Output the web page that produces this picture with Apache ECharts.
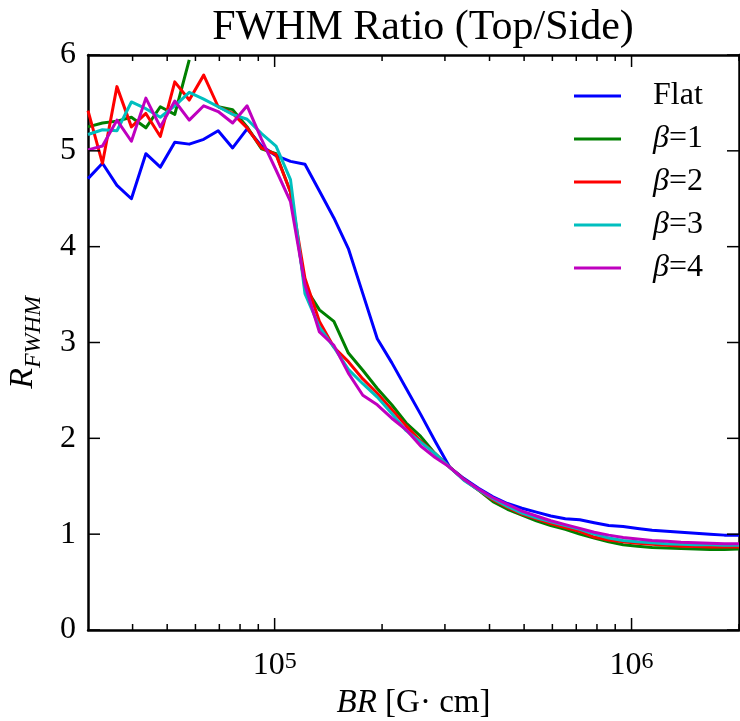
<!DOCTYPE html>
<html><head><meta charset="utf-8">
<script src="https://cdn.jsdelivr.net/npm/echarts@6/dist/echarts.min.js"></script>
<style>html,body{margin:0;padding:0;background:#fff}#c{width:740px;height:721px}</style>
</head><body><div id="c"></div>
<script>
// x positions (BR, G cm), log spaced
const xs = [30000, 32934, 36155, 39691, 43573, 47835, 52513, 57649, 63287, 69477,
  76272, 83731, 91920, 100910, 110779, 121613, 133507, 146564, 160898, 176634,
  193909, 212873, 233692, 256547, 281637, 309181, 339419, 372615, 409057, 449063,
  492981, 541195, 594124, 652230, 716018, 786045, 862920, 947314, 1039961, 1141669,
  1253324, 1375899, 1510463, 1658186, 1820356, 2000000];

const flat = [4.71, 4.87, 4.64, 4.50, 4.97, 4.83, 5.09, 5.07, 5.12, 5.21,
  5.03, 5.23, 5.05, 4.95, 4.89, 4.86, 4.58, 4.30, 3.98, 3.51,
  3.04, 2.79, 2.52, 2.25, 1.97, 1.70, 1.58, 1.48, 1.39, 1.32,
  1.27, 1.23, 1.19, 1.16, 1.15, 1.12, 1.09, 1.08, 1.06, 1.04,
  1.03, 1.02, 1.01, 1.00, 0.99, 0.99];

const beta1 = [5.25, 5.29, 5.31, 5.35, 5.24, 5.46, 5.38, 5.95, null, 5.46,
  5.43, 5.25, 5.02, 4.97, 4.57, 3.58, 3.34, 3.22, 2.89, 2.71,
  2.52, 2.35, 2.16, 2.02, 1.84, 1.70, 1.57, 1.46, 1.34, 1.26,
  1.20, 1.14, 1.09, 1.05, 1.00, 0.96, 0.92, 0.89, 0.875, 0.86,
  0.855, 0.85, 0.845, 0.84, 0.84, 0.845];

const beta2 = [5.42, 4.87, 5.67, 5.25, 5.39, 5.15, 5.72, 5.53, 5.79, 5.46,
  5.39, 5.24, 5.03, 4.96, 4.57, 3.67, 3.22, 2.95, 2.80, 2.62,
  2.47, 2.30, 2.13, 1.97, 1.84, 1.70, 1.57, 1.46, 1.36, 1.28,
  1.21, 1.16, 1.11, 1.07, 1.03, 0.97, 0.94, 0.92, 0.905, 0.895,
  0.885, 0.875, 0.87, 0.865, 0.865, 0.865];

const beta3 = [5.17, 5.22, 5.21, 5.51, 5.44, 5.35, 5.47, 5.61, 5.54, 5.46,
  5.38, 5.33, 5.18, 5.05, 4.70, 3.51, 3.16, 2.95, 2.72, 2.57,
  2.43, 2.26, 2.08, 1.96, 1.84, 1.70, 1.56, 1.46, 1.37, 1.29,
  1.22, 1.17, 1.13, 1.09, 1.05, 1.00, 0.96, 0.935, 0.92, 0.91,
  0.90, 0.895, 0.89, 0.89, 0.885, 0.885];

const beta4 = [5.01, 5.05, 5.32, 5.10, 5.55, 5.25, 5.52, 5.32, 5.47, 5.41,
  5.29, 5.47, 5.12, 4.80, 4.47, 3.60, 3.11, 2.97, 2.68, 2.45,
  2.35, 2.21, 2.09, 1.92, 1.80, 1.70, 1.57, 1.47, 1.38, 1.31,
  1.24, 1.19, 1.14, 1.10, 1.06, 1.02, 0.99, 0.965, 0.95, 0.935,
  0.925, 0.915, 0.91, 0.905, 0.90, 0.90];

const seriesNames = ['Flat', 'β=1', 'β=2', 'β=3', 'β=4'];
const seriesValues = [flat, beta1, beta2, beta3, beta4];
const colors = ['#0000ff', '#008000', '#ff0000', '#00bfbf', '#bf00bf'];

const majorX = [1e5, 1e6];
const minorX = [4e4, 5e4, 6e4, 7e4, 8e4, 9e4, 2e5, 3e5, 4e5, 5e5, 6e5, 7e5, 8e5, 9e5, 2e6];
const yTicks = [0, 1, 2, 3, 4, 5, 6];
const yMin = 0, yMax = 6, yStep = 1;
const xMin = 30000, xMax = 2000000;

const titleText = 'FWHM Ratio (Top/Side)';
const F = '"Liberation Serif", "DejaVu Serif", serif';

const chart = echarts.init(document.getElementById('c'), null, {renderer: 'canvas'});

// tick marks: [x, y, length, direction]  direction 0 up, 1 down, 2 right, 3 left
const MAJ = 12, MIN = 6;
const tickData = [];
majorX.forEach(v => { tickData.push([v, yMin, MAJ, 0]); tickData.push([v, yMax, MAJ, 1]); });
minorX.forEach(v => { tickData.push([v, yMin, MIN, 0]); tickData.push([v, yMax, MIN, 1]); });
yTicks.forEach(v => { tickData.push([xMin, v, MAJ, 2]); tickData.push([xMax, v, MAJ, 3]); });

const lineAxis = (extra) => Object.assign({
  axisLine: {show: true, onZero: false, lineStyle: {color: '#000', width: 2.5}},
  axisTick: {show: false},
  splitLine: {show: false}, minorTick: {show: false}, minorSplitLine: {show: false}
}, extra);

const option = {
  animation: false,
  backgroundColor: '#fff',
  grid: {left: 88, right: 1, top: 55, bottom: 91, containLabel: false, outerBoundsMode: 'none'},
  xAxis: [
    lineAxis({
      type: 'log', logBase: 10, min: xMin, max: xMax, position: 'bottom',
      axisLabel: {
        show: true, customValues: majorX, margin: 20,
        formatter: v => '{b|10}{s|' + Math.round(Math.log10(v)) + '}',
        rich: {
          b: {fontSize: 32, fontFamily: F, color: '#000', lineHeight: 32, verticalAlign: 'bottom', padding: [6, 0, 0, 0]},
          s: {fontSize: 24, fontFamily: F, color: '#000', lineHeight: 24, verticalAlign: 'top'}
        }
      },
      name: '{i|BR} [G· cm]', nameLocation: 'middle', nameGap: 56,
      nameTextStyle: {fontSize: 33, fontFamily: F, color: '#000',
        rich: {i: {fontSize: 33, fontFamily: F, fontStyle: 'italic', color: '#000'}}}
    }),
    lineAxis({type: 'log', logBase: 10, min: xMin, max: xMax, position: 'top', axisLabel: {show: false}})
  ],
  yAxis: [
    lineAxis({
      type: 'value', min: yMin, max: yMax, interval: yStep, position: 'left',
      axisLabel: {show: true, fontSize: 32, fontFamily: F, color: '#000', margin: 12},
      name: '{r|R}{s|FWHM}', nameLocation: 'middle', nameRotate: 90, nameGap: 42,
      nameTextStyle: {rich: {
        r: {fontSize: 34, fontFamily: F, fontStyle: 'italic', color: '#000', lineHeight: 40, verticalAlign: 'top'},
        s: {fontSize: 24, fontFamily: F, fontStyle: 'italic', color: '#000', lineHeight: 24, verticalAlign: 'bottom'}
      }}
    }),
    lineAxis({type: 'value', min: yMin, max: yMax, interval: yStep, position: 'right', axisLabel: {show: false}})
  ],
  legend: {
    data: seriesNames, orient: 'vertical', left: 569, top: 75,
    itemWidth: 47, itemHeight: 3, itemGap: 11, icon: 'rect', selectedMode: false,
    formatter: n => n === 'Flat' ? 'Flat' : '{i|β}' + n.slice(1),
    textStyle: {fontSize: 32, fontFamily: F, color: '#000', lineHeight: 32, padding: [0, 0, 0, 27],
      rich: {i: {fontSize: 32, fontFamily: F, fontStyle: 'italic', color: '#000'}}}
  },
  graphic: [{
    type: 'text', x: 423, y: 28, silent: true,
    style: {text: titleText, font: '42px ' + F, fill: '#000', align: 'center', verticalAlign: 'middle'}
  }],
  series: seriesNames.map((n, i) => ({
    name: n, type: 'line', xAxisIndex: 0, yAxisIndex: 0,
    data: xs.map((x, j) => [x, seriesValues[i][j]]),
    showSymbol: false, symbol: 'none', connectNulls: false, clip: true,
    lineStyle: {width: 3, color: colors[i], join: 'round'},
    itemStyle: {color: colors[i]}, color: colors[i]
  })).concat([{
    name: 'ticks', type: 'custom', xAxisIndex: 0, yAxisIndex: 0, clip: false, silent: true, z: 10,
    data: tickData,
    renderItem: (params, api) => {
      const p = api.coord([api.value(0), api.value(1)]);
      const len = api.value(2), d = api.value(3);
      const q = d === 0 ? [p[0], p[1] - len] : d === 1 ? [p[0], p[1] + len] : d === 2 ? [p[0] + len, p[1]] : [p[0] - len, p[1]];
      return {type: 'line', shape: {x1: p[0], y1: p[1], x2: q[0], y2: q[1]},
        style: {stroke: '#000', lineWidth: 1.5}};
    }
  }])
};
chart.setOption(option);
</script></body></html>
